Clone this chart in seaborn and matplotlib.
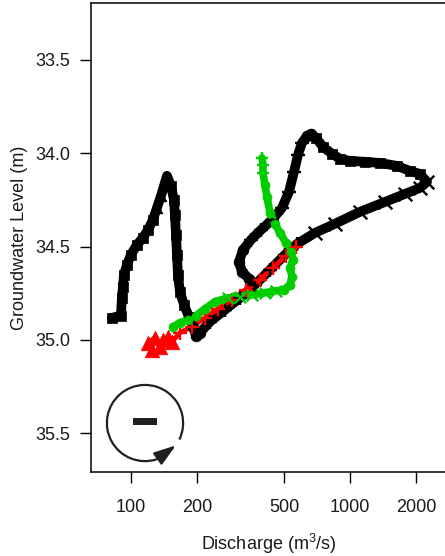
import numpy as np
import pandas as pd
import matplotlib
matplotlib.use('Agg')
import matplotlib.pyplot as plt
from matplotlib.patches import Arc, Rectangle
import seaborn as sns

# black series (main hysteresis loop)
black_q = [81.9, 90.0, 90.9, 91.9, 92.9, 95.9, 100.0, 106.5, 113.4, 119.6, 126.0,
           131.4, 137.1, 141.5, 146.0,
           152.3, 157.2, 158.8, 160.5, 162.2, 163.9, 167.4, 174.6, 184.0,
           191.9, 198.1, 206.6,
           229.5, 268.7, 314.6, 368.3, 431.2, 505.0, 572.8,
           692.0, 854.2, 1111, 1445, 1783, 2087, 2247,
           2087, 1879, 1639, 1371, 1171, 1000, 900.3, 827.7, 752.9, 699.4,
           663.6, 636.3,
           603.6, 578.8, 555.0, 526.6, 489.3, 440.5, 392.3, 353.2,
           324.7, 311.3, 321.2, 345.7]
black_gw = [34.882, 34.871, 34.775, 34.716, 34.652, 34.598, 34.544, 34.491, 34.453, 34.411, 34.357,
            34.293, 34.228, 34.175, 34.121,
            34.175, 34.250, 34.330, 34.437, 34.544, 34.652, 34.743, 34.812, 34.877,
            34.930, 34.978, 34.962,
            34.903, 34.839, 34.775, 34.705, 34.625, 34.544, 34.486,
            34.427, 34.378, 34.314, 34.261, 34.218, 34.186, 34.153,
            34.111, 34.095, 34.068, 34.052, 34.046, 34.041, 34.030, 34.003, 33.966, 33.918,
            33.896, 33.907,
            33.945, 34.009, 34.100, 34.207, 34.293, 34.357, 34.411, 34.464,
            34.518, 34.582, 34.635, 34.673]
black_phase = (['rise1'] * 11 + ['rise2'] * 4 + ['fall'] * 9 + ['trough'] * 3 +
               ['diag1'] * 7 + ['diag2'] * 7 + ['top'] * 10 + ['crest'] * 2 +
               ['recess'] * 8 + ['lobe'] * 4)

# red series
red_q = [124.7, 119.6, 128.7, 135.7, 140.0, 147.6, 153.9,
         167.4, 189.9, 217.7, 249.6, 289.1, 335.0, 388.2, 445.0, 510.4, 566.8]
red_gw = [35.053, 35.016, 34.989, 35.037, 35.000, 34.984, 35.010,
          34.962, 34.930, 34.882, 34.834, 34.785, 34.732, 34.678, 34.614, 34.550, 34.502]
red_phase = ['start'] * 7 + ['diag'] * 10

# green series
green_q = [396.5, 400.6, 400.6,
           409.2, 417.8, 431.2, 454.5, 479.0, 510.4, 537.9, 549.4, 532.2, 543.6, 532.2, 499.4,
           459.3, 409.2, 356.9, 314.6, 277.4,
           241.8, 217.7, 198.1, 182.1, 167.4, 155.5]
green_gw = [34.025, 34.062, 34.105,
            34.170, 34.234, 34.319, 34.378, 34.427, 34.480, 34.528, 34.571, 34.614, 34.662, 34.705, 34.732,
            34.737, 34.748, 34.759, 34.769, 34.775,
            34.796, 34.834, 34.871, 34.893, 34.909, 34.930]
green_phase = ['top'] * 3 + ['fall'] * 12 + ['flat'] * 5 + ['end'] * 6

x_ticks = [100, 200, 500, 1000, 2000]
y_ticks = [33.5, 34.0, 34.5, 35.0, 35.5]

black_mk = {'rise1': 's', 'rise2': '^', 'fall': 's', 'trough': 'o', 'diag1': '+',
            'diag2': 'x', 'top': 's', 'crest': 'o', 'recess': '+', 'lobe': 'o'}
red_mk = {'start': '^', 'diag': '+'}
green_mk = {'top': '+', 'fall': 'o', 'flat': 'x', 'end': 'o'}


def draw_series(ax, q, gw, phase, markers, color, lw, size, big=None):
    df = pd.DataFrame({'Q': q, 'GW': gw, 'phase': phase})
    sns.lineplot(data=df, x='Q', y='GW', sort=False, estimator=None, color=color,
                 lw=lw, ax=ax, legend=False)
    for ph, mk in markers.items():
        sub = df[df['phase'] == ph]
        s = size * 2 if ph == big else size
        if mk in ('+', 'x'):
            sns.scatterplot(data=sub, x='Q', y='GW', marker=mk, color=color, s=s * 1.6,
                            linewidth=1.7, ax=ax, legend=False, zorder=3)
        else:
            sns.scatterplot(data=sub, x='Q', y='GW', marker=mk, color=color, s=s,
                            edgecolor=color, linewidth=0.5, ax=ax, legend=False, zorder=3)


sns.set_style('ticks')
plt.rcParams['font.family'] = ['Liberation Sans', 'DejaVu Sans']
plt.rcParams['mathtext.default'] = 'regular'

fig = plt.figure(figsize=(4.45, 5.56), dpi=100)
ax = fig.add_axes([0.2045, 0.151, 0.80, 0.8435])

draw_series(ax, black_q, black_gw, black_phase, black_mk, 'black', 7, 60)
draw_series(ax, red_q, red_gw, red_phase, red_mk, '#ff0000', 3.5, 55, big='start')
draw_series(ax, green_q, green_gw, green_phase, green_mk, '#00cd00', 5.5, 42)

ax.set_xscale('log')
ax.set_xlim(65.7, 2773)
ax.set_ylim(35.709, 33.195)
ax.set_xticks(x_ticks)
ax.set_xticklabels([str(t) for t in x_ticks])
ax.xaxis.set_minor_locator(matplotlib.ticker.NullLocator())
ax.set_yticks(y_ticks)
ax.set_yticklabels(['%.1f' % t for t in y_ticks])
ax.tick_params(axis='both', direction='out', length=8, width=1.0, labelsize=13,
               color='black', labelcolor='#1a1a1a')
ax.tick_params(axis='x', pad=11.5)
ax.tick_params(axis='y', pad=7)
for sp in ax.spines.values():
    sp.set_linewidth(1.1)
    sp.set_color('black')

ax.set_xlabel('Discharge (m$^3$/s)', fontsize=13, color='#1a1a1a')
ax.set_ylabel('Groundwater Level (m)', fontsize=13, color='#1a1a1a')
ax.xaxis.set_label_coords(0.5, -0.128)
ax.yaxis.set_label_coords(-0.177, 0.5)

# inset: rotation symbol with minus sign
cx, cy, rx, ry = 0.1517, 0.1045, 0.107, 0.0812
ax.add_patch(Arc((cx, cy), 2 * rx, 2 * ry, theta1=-20, theta2=292, transform=ax.transAxes,
                 color='#231f20', lw=1.6))
a0 = np.deg2rad(288)
a1 = np.deg2rad(324)
ax.annotate('', xy=(cx + rx * np.cos(a1), cy + ry * np.sin(a1)),
            xytext=(cx + rx * np.cos(a0), cy + ry * np.sin(a0)),
            xycoords='axes fraction', textcoords='axes fraction',
            arrowprops=dict(arrowstyle='-|>,head_length=0.9,head_width=0.3', color='#231f20',
                            lw=1.6, mutation_scale=15, shrinkA=0, shrinkB=0))
ax.add_patch(Rectangle((0.118, 0.1002), 0.0674, 0.0149, transform=ax.transAxes,
                       color='#231f20', lw=0))

fig.savefig('out.png', dpi=100)
